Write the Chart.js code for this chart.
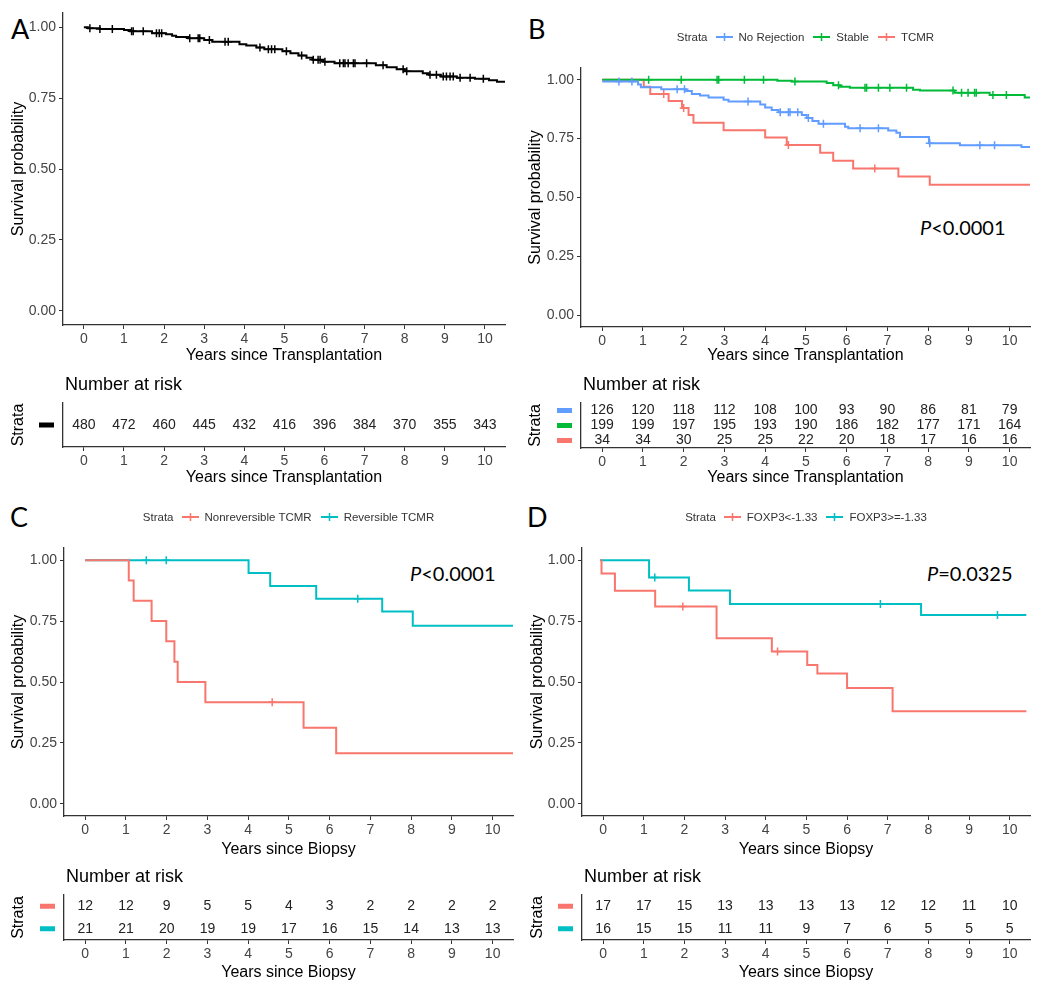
<!DOCTYPE html>
<html>
<head>
<meta charset="utf-8">
<script src="https://cdn.jsdelivr.net/npm/chart.js@4.4.1/dist/chart.umd.min.js"></script>
<style>
body { margin: 0; background: #fff; width: 1050px; height: 988px; position: relative; overflow: hidden;
       font-family: "Liberation Sans", Arial, sans-serif; }
canvas { position: absolute; }
.tag { position: absolute; font-family: Lato, "Open Sans", sans-serif; font-size: 27px; line-height: 27px; color: #000; }
.pval { position: absolute; font-family: Lato, "Open Sans", sans-serif; font-size: 20px; line-height: 20px; color: #000; }
.legend { position: absolute; display: flex; justify-content: center; align-items: center;
          font-size: 11.5px; color: #333; height: 14px; }
</style>
</head>
<body>

<div class="tag" style="left:11px;top:15px">A</div>
<div class="tag" style="left:528px;top:15px">B</div>
<div class="tag" style="left:10px;top:503px">C</div>
<div class="tag" style="left:527px;top:503px">D</div>

<div class="pval" style="left:920px;top:217px"><i>P</i>&lt;0.0001</div>
<div class="pval" style="left:410px;top:563px"><i>P</i>&lt;0.0001</div>
<div class="pval" style="left:927px;top:563px"><i>P</i>=0.0325</div>

<canvas id="kmA" width="525" height="365" style="left:0;top:0"></canvas>
<canvas id="kmB" width="525" height="365" style="left:525px;top:0"></canvas>
<canvas id="kmC" width="525" height="364" style="left:0;top:495px"></canvas>
<canvas id="kmD" width="525" height="364" style="left:525px;top:495px"></canvas>
<canvas id="riskA" width="525" height="117" style="left:0;top:370px"></canvas>
<canvas id="riskB" width="525" height="117" style="left:525px;top:370px"></canvas>
<canvas id="riskC" width="525" height="117" style="left:0;top:865px"></canvas>
<canvas id="riskD" width="525" height="117" style="left:525px;top:865px"></canvas>

<script>
// -------------------------
//      DATA
// -------------------------

const yearTicks = [0, 1, 2, 3, 4, 5, 6, 7, 8, 9, 10];
const survTicks = [0, 0.25, 0.5, 0.75, 1];

const RED = "#F8766D", CYAN = "#00BFC4", BLUE = "#619CFF", GREEN = "#00BA38";

// each row: [years, survival, censored(1) or event(0)]

// A - all patients
const allPatients = [
    [0, 1], [0.1, 0.996], [0.15, 0.996, 1], [0.4, 0.994], [0.4, 0.994, 1], [0.71, 0.994, 1],
    [1.0, 0.99], [1.15, 0.986], [1.19, 0.986, 1], [1.23, 0.986, 1], [1.48, 0.986, 1],
    [1.7, 0.979], [1.81, 0.979, 1], [1.88, 0.979, 1], [1.94, 0.979, 1],
    [2.05, 0.975], [2.2, 0.97], [2.3, 0.965], [2.6, 0.961], [2.64, 0.961, 1], [2.85, 0.961, 1], [2.89, 0.961, 1],
    [3.0, 0.955], [3.13, 0.955, 1], [3.2, 0.949], [3.52, 0.949, 1], [3.6, 0.949, 1],
    [3.88, 0.94], [4.05, 0.935], [4.3, 0.928], [4.39, 0.928, 1], [4.5, 0.922], [4.6, 0.922, 1], [4.68, 0.922, 1], [4.76, 0.922, 1],
    [4.95, 0.915], [5.05, 0.915, 1], [5.15, 0.908], [5.35, 0.9], [5.43, 0.9, 1], [5.55, 0.892],
    [5.7, 0.885], [5.72, 0.885, 1], [5.84, 0.885, 1], [5.89, 0.885, 1], [5.97, 0.878], [6.01, 0.878, 1],
    [6.25, 0.873], [6.38, 0.873, 1], [6.47, 0.873, 1], [6.51, 0.873, 1], [6.59, 0.873, 1], [6.72, 0.873, 1], [6.76, 0.873, 1], [7.05, 0.873, 1],
    [7.28, 0.866], [7.46, 0.866, 1], [7.55, 0.859], [7.8, 0.852], [7.96, 0.852, 1], [8.0, 0.845], [8.05, 0.845, 1],
    [8.45, 0.838], [8.6, 0.832], [8.63, 0.832, 1], [8.79, 0.832, 1], [8.9, 0.826], [8.96, 0.826, 1], [9.04, 0.826, 1], [9.13, 0.826, 1], [9.21, 0.826, 1],
    [9.3, 0.822], [9.38, 0.822, 1], [9.63, 0.822, 1], [9.75, 0.818], [9.96, 0.818, 1], [10.1, 0.813], [10.3, 0.808], [10.5, 0.804]
];
const allAtRisk = [480, 472, 460, 445, 432, 416, 396, 384, 370, 355, 343];

// B - biopsy groups
const bNames = ["No Rejection", "Stable", "TCMR"];
const bColors = [BLUE, GREEN, RED];
const noRejection = [
    [0, 0.993], [0.41, 0.993, 1], [0.73, 0.993, 1], [0.88, 0.98], [0.95, 0.968], [1.45, 0.96], [1.84, 0.96, 1], [2.02, 0.96, 1],
    [2.06, 0.952], [2.2, 0.94], [2.4, 0.933], [2.61, 0.925], [2.98, 0.915], [3.1, 0.908], [3.58, 0.908, 1],
    [3.88, 0.895], [4.0, 0.882], [4.16, 0.872], [4.33, 0.862], [4.37, 0.862, 1], [4.57, 0.862, 1], [4.61, 0.862, 1], [4.8, 0.862, 1],
    [4.9, 0.85], [5.02, 0.838], [5.06, 0.838, 1], [5.16, 0.825], [5.31, 0.813], [5.43, 0.813, 1], [5.96, 0.8], [6.04, 0.794],
    [6.33, 0.794, 1], [6.78, 0.794, 1], [7.02, 0.785], [7.22, 0.775], [7.31, 0.757], [8.02, 0.73], [8.04, 0.73, 1],
    [8.78, 0.722], [9.27, 0.722, 1], [9.63, 0.722, 1], [10.29, 0.714], [10.5, 0.714]
];
const stable = [
    [0, 1], [1.14, 1, 1], [1.94, 1, 1], [2.82, 1, 1], [2.86, 1, 1], [3.49, 1, 1], [3.96, 1, 1],
    [4.3, 0.996], [4.65, 0.993], [4.73, 0.993, 1], [5.51, 0.986], [5.67, 0.977], [5.8, 0.977, 1], [5.84, 0.97], [6.08, 0.966],
    [6.45, 0.966, 1], [6.49, 0.966, 1], [6.78, 0.966, 1], [7.06, 0.966, 1], [7.47, 0.966, 1],
    [7.63, 0.958], [7.8, 0.954], [8.61, 0.954, 1], [8.65, 0.945], [8.82, 0.945, 1], [8.98, 0.945, 1], [9.14, 0.945, 1], [9.18, 0.945, 1],
    [9.51, 0.935], [9.59, 0.935, 1], [9.92, 0.935, 1], [10.37, 0.925], [10.5, 0.925]
];
const tcmr = [
    [0, 1], [1.02, 0.97], [1.18, 0.94], [1.51, 0.94, 1], [1.63, 0.91], [1.96, 0.88], [2.0, 0.88, 1], [2.12, 0.85], [2.24, 0.818],
    [2.98, 0.786], [4.0, 0.755], [4.53, 0.723], [4.57, 0.723, 1], [5.35, 0.69], [5.67, 0.656], [6.16, 0.623], [6.69, 0.623, 1],
    [7.27, 0.589], [8.04, 0.554], [10.5, 0.554]
];
const noRejectionAtRisk = [126, 120, 118, 112, 108, 100, 93, 90, 86, 81, 79];
const stableAtRisk = [199, 199, 197, 195, 193, 190, 186, 182, 177, 171, 164];
const tcmrAtRisk = [34, 34, 30, 25, 25, 22, 20, 18, 17, 16, 16];

// C - TCMR reversibility
const cNames = ["Nonreversible TCMR", "Reversible TCMR"];
const cColors = [RED, CYAN];
const nonreversible = [
    [0, 1], [1.07, 0.917], [1.19, 0.833], [1.63, 0.75], [1.99, 0.667], [2.19, 0.583], [2.27, 0.5], [2.95, 0.417],
    [4.59, 0.417, 1], [5.36, 0.3125], [6.16, 0.208], [10.5, 0.208]
];
const reversible = [
    [0, 1], [1.5, 1, 1], [1.99, 1, 1], [4.01, 0.947], [4.54, 0.894], [5.67, 0.842], [6.69, 0.842, 1],
    [7.29, 0.789], [8.04, 0.731], [10.5, 0.731]
];
const nonreversibleAtRisk = [12, 12, 9, 5, 5, 4, 3, 2, 2, 2, 2];
const reversibleAtRisk = [21, 21, 20, 19, 19, 17, 16, 15, 14, 13, 13];

// D - FOXP3 expression
const dNames = ["FOXP3<-1.33", "FOXP3>=-1.33"];
const dColors = [RED, CYAN];
const foxp3Low = [
    [-0.07, 1], [-0.04, 0.945], [0.29, 0.875], [1.28, 0.81], [1.96, 0.81, 1], [2.79, 0.68], [4.15, 0.625], [4.29, 0.625, 1],
    [5.02, 0.57], [5.27, 0.535], [6.0, 0.475], [7.12, 0.38], [10.41, 0.38]
];
const foxp3High = [
    [-0.08, 1], [1.13, 0.929], [1.27, 0.929, 1], [2.11, 0.876], [3.12, 0.82], [6.82, 0.82, 1], [7.82, 0.775],
    [9.7, 0.775, 1], [10.41, 0.775]
];
const foxp3LowAtRisk = [17, 17, 15, 13, 13, 13, 13, 12, 12, 11, 10];
const foxp3HighAtRisk = [16, 15, 15, 11, 11, 9, 7, 6, 5, 5, 5];

// -------------------------
//      CHART HELPERS
// -------------------------

Chart.defaults.font.family = '"Liberation Sans", Arial, sans-serif';

function xScale(title, box) {
    return {
        type: "linear", min: -0.52, max: 10.5,
        afterBuildTicks: s => { s.ticks = yearTicks.map(v => ({ value: v })); },
        afterFit: s => { s.height = box.xh; },
        ticks: { color: "#444", font: { size: 14 }, padding: 2, maxRotation: 0, autoSkip: false },
        grid: { drawOnChartArea: false, tickLength: 4, color: "#333" },
        border: { color: "#333", width: 1.3 },
        title: { display: true, text: title, color: "#000", font: { size: 16 }, padding: 0 }
    };
}

function kmChart(id, series, title, box) {
    return new Chart(document.getElementById(id), {
        type: "line",
        data: {
            datasets: series.map(s => ({
                label: s.name,
                data: s.rows.map(([x, y, c]) => ({ x, y, c: !!c })),
                borderColor: s.color,
                borderWidth: 2,
                stepped: "before",
                fill: false,
                pointStyle: "cross",
                pointRadius: ctx => (ctx.raw && ctx.raw.c ? 4 : 0),
                pointBorderColor: s.color,
                pointBorderWidth: 1.5,
                pointHoverRadius: 0
            }))
        },
        options: {
            responsive: false, animation: false, events: [],
            layout: { padding: { top: box.top, right: box.right, left: 0, bottom: 0 } },
            plugins: { legend: { display: false }, tooltip: { enabled: false } },
            scales: {
                x: xScale(title, box),
                y: {
                    min: -0.05, max: 1.05,
                    afterBuildTicks: s => { s.ticks = survTicks.map(v => ({ value: v })); },
                    afterFit: s => { s.width = box.yw; },
                    ticks: { color: "#444", font: { size: 14 }, padding: 3, callback: v => v.toFixed(2) },
                    grid: { drawOnChartArea: false, tickLength: 4, color: "#333" },
                    border: { color: "#333", width: 1.3 },
                    title: { display: true, text: "Survival probability", color: "#000", font: { size: 16 },
                             padding: { top: box.tp, bottom: 0 } }
                }
            }
        }
    });
}

const riskLabels = {
    id: "riskLabels",
    afterDatasetsDraw(chart) {
        const ctx = chart.ctx, area = chart.chartArea;
        ctx.save();
        chart.data.datasets.forEach((ds, i) => {
            const meta = chart.getDatasetMeta(i);
            ctx.font = '14px "Liberation Sans", Arial, sans-serif';
            ctx.textAlign = "center";
            ctx.textBaseline = "middle";
            ctx.fillStyle = "#222";
            meta.data.forEach((pt, j) => ctx.fillText(String(ds.data[j].n), pt.x, pt.y));
            const y = chart.scales.y.getPixelForValue(i + 1);
            ctx.fillStyle = ds.keyColor;
            ctx.fillRect(area.left - 24, y - 2.5, 15, 5);
        });
        ctx.font = '18px "Liberation Sans", Arial, sans-serif';
        ctx.textAlign = "left";
        ctx.textBaseline = "middle";
        ctx.fillStyle = "#000";
        ctx.fillText("Number at risk", area.left + 2, area.top - 18);
        ctx.restore();
    }
};

function riskChart(id, strata, title, box) {
    const n = strata.length;
    return new Chart(document.getElementById(id), {
        type: "scatter",
        data: {
            datasets: strata.map((s, i) => ({
                label: s.name,
                data: yearTicks.map((t, j) => ({ x: t, y: i + 1, n: s.counts[j] })),
                keyColor: s.color,
                pointRadius: 0,
                pointHoverRadius: 0
            }))
        },
        options: {
            responsive: false, animation: false, events: [],
            layout: { padding: { top: box.top, right: box.right, left: 0, bottom: 0 } },
            plugins: { legend: { display: false }, tooltip: { enabled: false } },
            scales: {
                x: xScale(title, box),
                y: {
                    type: "linear", min: 0.5, max: n + 0.5, reverse: true,
                    afterFit: s => { s.width = box.yw; },
                    ticks: { display: false },
                    grid: { display: false },
                    border: { color: "#333", width: 1.3 },
                    title: { display: true, text: "Strata", color: "#000", font: { size: 16 },
                             padding: { top: box.tp, bottom: 0 } }
                }
            }
        },
        plugins: [riskLabels]
    });
}

function legend(left, width, top, names, colors) {
    const d = document.createElement("div");
    d.className = "legend";
    d.style.left = left + "px";
    d.style.width = width + "px";
    d.style.top = top + "px";
    const esc = t => t.replace(/&/g, "&amp;").replace(/</g, "&lt;").replace(/>/g, "&gt;");
    let html = '<span style="margin-right:8px">Strata</span>';
    names.forEach((name, i) => {
        const c = colors[i];
        html += `<svg width="17" height="10" style="margin-right:6px">` +
            `<line x1="0" y1="5" x2="17" y2="5" stroke="${c}" stroke-width="2"/>` +
            `<line x1="8.5" y1="1" x2="8.5" y2="9" stroke="${c}" stroke-width="1.5"/></svg>` +
            `<span style="margin-right:${i < names.length - 1 ? 9 : 0}px">${esc(name)}</span>`;
    });
    d.innerHTML = html;
    document.body.appendChild(d);
}

// -------------------------
//      PANELS
// -------------------------

const TX = "Years since Transplantation", BX = "Years since Biopsy";

kmChart("kmA", [{ name: "All", rows: allPatients, color: "#000" }], TX,
    { top: 13, right: 20, yw: 63, xh: 40, tp: 9 });
riskChart("riskA", [{ name: "All", counts: allAtRisk, color: "#000" }], TX,
    { top: 33, right: 20, yw: 63, xh: 40, tp: 9 });

kmChart("kmB", [
    { name: bNames[0], rows: noRejection, color: bColors[0] },
    { name: bNames[1], rows: stable, color: bColors[1] },
    { name: bNames[2], rows: tcmr, color: bColors[2] }
], TX, { top: 68, right: 20, yw: 56, xh: 38, tp: 0.5 });
riskChart("riskB", [
    { name: bNames[0], counts: noRejectionAtRisk, color: bColors[0] },
    { name: bNames[1], counts: stableAtRisk, color: bColors[1] },
    { name: bNames[2], counts: tcmrAtRisk, color: bColors[2] }
], TX, { top: 33, right: 20, yw: 56, xh: 39, tp: 0.5 });
legend(581, 449, 30, bNames, bColors);

kmChart("kmC", [
    { name: cNames[0], rows: nonreversible, color: cColors[0] },
    { name: cNames[1], rows: reversible, color: cColors[1] }
], BX, { top: 53, right: 12, yw: 64, xh: 43, tp: 8.5 });
riskChart("riskC", [
    { name: cNames[0], counts: nonreversibleAtRisk, color: cColors[0] },
    { name: cNames[1], counts: reversibleAtRisk, color: cColors[1] }
], BX, { top: 30, right: 12, yw: 64, xh: 42, tp: 8.5 });
legend(64, 449, 510, cNames, cColors);

kmChart("kmD", [
    { name: dNames[0], rows: foxp3Low, color: dColors[0] },
    { name: dNames[1], rows: foxp3High, color: dColors[1] }
], BX, { top: 53, right: 20, yw: 57, xh: 43, tp: 2.5 });
riskChart("riskD", [
    { name: dNames[0], counts: foxp3LowAtRisk, color: dColors[0] },
    { name: dNames[1], counts: foxp3HighAtRisk, color: dColors[1] }
], BX, { top: 30, right: 20, yw: 57, xh: 42, tp: 2.5 });
legend(582, 448, 510, dNames, dColors);
</script>
</body>
</html>
